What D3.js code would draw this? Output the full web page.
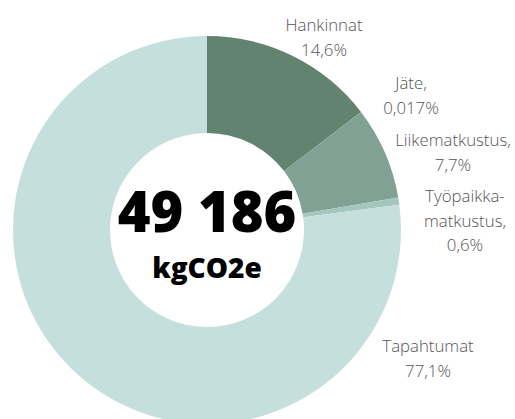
<!DOCTYPE html>
<html>
<head>
<meta charset="utf-8">
<script src="https://cdn.jsdelivr.net/npm/d3@7"></script>
<style>
  body { margin: 0; background: #fff; }
  svg { display: block; font-family: "Open Sans", sans-serif; }
</style>
</head>
<body>
<div id="chart"></div>
<script>
const categories = ["Hankinnat", "Jäte", "Liikematkustus", "Työpaikkamatkustus", "Tapahtumat"];
const shares = [14.6, 0.017, 7.7, 0.6, 77.1];
const labelLines = [
  ["Hankinnat", "14,6%"],
  ["Jäte,", "0,017%"],
  ["Liikematkustus,", "7,7%"],
  ["Työpaikka-", "matkustus,", "0,6%"],
  ["Tapahtumat", "77,1%"]
];
const totalValue = "49 186";
const unit = "kgCO2e";

const colors = ["#62836f", "#62836f", "#80a193", "#a3c6bd", "#c5e0dc"];
// label anchor (x, first baseline) per slice
const labelPos = [[324, 31], [411, 89], [453, 146], [465, 202], [428, 352]];

const width = 515, height = 419;
const cx = 207, cy = 230, outerR = 194, innerR = 97;

const svg = d3.select("#chart").append("svg")
  .attr("width", width)
  .attr("height", height);

const pie = d3.pie().sort(null).value(d => d)(shares);
const arc = d3.arc().innerRadius(innerR).outerRadius(outerR);

const g = svg.append("g").attr("transform", `translate(${cx},${cy})`);

g.selectAll("path")
  .data(pie).enter().append("path")
  .attr("d", arc)
  .attr("fill", (d, i) => colors[i]);

// Etiquetas
categories.forEach((c, i) => {
  const t = svg.append("text")
    .attr("text-anchor", "middle")
    .attr("fill", "#555")
    .attr("font-weight", 300)
    .attr("font-size", 16.8);
  labelLines[i].forEach((line, j) => {
    t.append("tspan")
      .attr("x", labelPos[i][0])
      .attr("y", labelPos[i][1] + j * 24.5)
      .text(line);
  });
});

// Texto central
g.append("text")
  .attr("text-anchor", "middle")
  .attr("y", 2)
  .attr("font-size", 56)
  .attr("font-weight", 800)
  .attr("fill", "#000")
  .text(totalValue);

g.append("text")
  .attr("text-anchor", "middle")
  .attr("y", 48)
  .attr("font-size", 28)
  .attr("font-weight", 800)
  .attr("fill", "#000")
  .text(unit);
</script>
</body>
</html>
